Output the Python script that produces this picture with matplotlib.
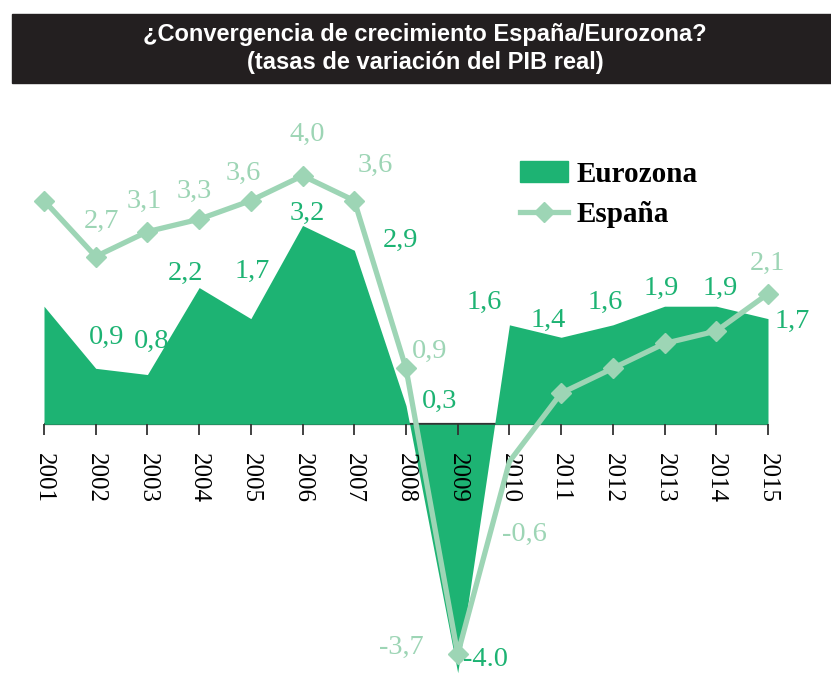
import matplotlib.pyplot as plt
from matplotlib.patches import Patch, Rectangle
from matplotlib.lines import Line2D

# GDP growth, %
years = list(range(2001, 2016))
eurozona = [1.9, 0.9, 0.8, 2.2, 1.7, 3.2, 2.8, 0.3, -4.0, 1.6, 1.4, 1.6, 1.9, 1.9, 1.7]
espana = [3.6, 2.7, 3.1, 3.3, 3.6, 4.0, 3.6, 0.9, -3.7, -0.6, 0.5, 0.9, 1.3, 1.5, 2.1]

eurozona_labels = [None, "0,9", "0,8", "2,2", "1,7", "3,2", "2,9", "0,3", "-4.0",
                   "1,6", "1,4", "1,6", "1,9", "1,9", "1,7"]
espana_labels = [None, "2,7", "3,1", "3,3", "3,6", "4,0", "3,6", "0,9", "-3,7",
                 "-0,6", None, None, None, None, "2,1"]

# label offsets in pixels (dx, dy)
eurozona_offsets = [(0, 0), (11, 31), (4, 33), (-14, 14), (1, 47), (5, 12), (46, 10),
                    (34, 4), (28, 13), (-25, 22), (-13, 17), (-8, 22), (-3, 18), (4, 18), (24, -3)]
espana_offsets = [(0, 0), (6, 35), (-3, 30), (-5, 28), (-8, 27), (5, 41), (21, 35),
                  (24, 17), (-56, 7), (15, -73), (0, 0), (0, 0), (0, 0), (0, 0), (-1, 30)]

EURO = "#1db373"
ESP = "#9dd5b5"
DARK = "#231f20"
SERIF = "Liberation Serif"

W, H = 831, 674
fig = plt.figure(figsize=(W / 100, H / 100), dpi=100)

# title bar
fig.patches.append(Rectangle((12 / W, 1 - 83 / H), 1 - 12 / W, 69 / H,
                             transform=fig.transFigure, color=DARK, zorder=0))
title_font = dict(family="Liberation Sans", weight="bold", color="white",
                  ha="center", va="center", fontsize=17)
fig.text(425 / W, 1 - 34 / H, "¿Convergencia de crecimiento España/Eurozona?", **title_font)
fig.text(425 / W, 1 - 62 / H, "(tasas de variación del PIB real)", **title_font)

ax = fig.add_axes([44 / W, 0, 724 / W, (H - 90) / H])
ax.set_xlim(2001, 2015)
ax.set_ylim(-4.02, 5.38)
ax.patch.set_visible(False)

ax.axhline(0, color="#333333", lw=1.6, zorder=0.5)
ax.fill_between(years, eurozona, 0, color=EURO, lw=0, zorder=1)
ax.plot(years, espana, color=ESP, lw=3.8, marker="D", ms=10,
        markevery=[i for i in range(len(years)) if i != 9], clip_on=False, zorder=3)

for x, v, t, off in zip(years, eurozona, eurozona_labels, eurozona_offsets):
    if t:
        ax.annotate(t, (x, v), xytext=off, textcoords="offset pixels", ha="center",
                    va="center", color=EURO, fontsize=20.5, family=SERIF, zorder=4)
for x, v, t, off in zip(years, espana, espana_labels, espana_offsets):
    if t:
        ax.annotate(t, (x, v), xytext=off, textcoords="offset pixels", ha="center",
                    va="center", color=ESP, fontsize=20.5, family=SERIF, zorder=4)

for s in ax.spines.values():
    s.set_visible(False)
ax.spines["bottom"].set_position(("data", 0))
ax.set_yticks([])
ax.set_xticks(years)
ax.set_xticklabels([str(y) for y in years], rotation=270, fontsize=18, family=SERIF)
ax.tick_params(axis="x", direction="out", length=8, width=1.3, color="#333333", pad=13)

handles = [Patch(color=EURO), Line2D([], [], color=ESP, lw=3.8, marker="D", ms=10)]
fig.legend(handles, ["Eurozona", "España"], loc="upper left",
           bbox_to_anchor=(505 / W, 1 - 146 / H), frameon=False,
           prop=dict(family=SERIF, weight="bold", size=21), handlelength=1.65,
           handleheight=0.7, handletextpad=0.3, labelspacing=0.45, borderpad=0)

fig.savefig("out.png", dpi=100)
